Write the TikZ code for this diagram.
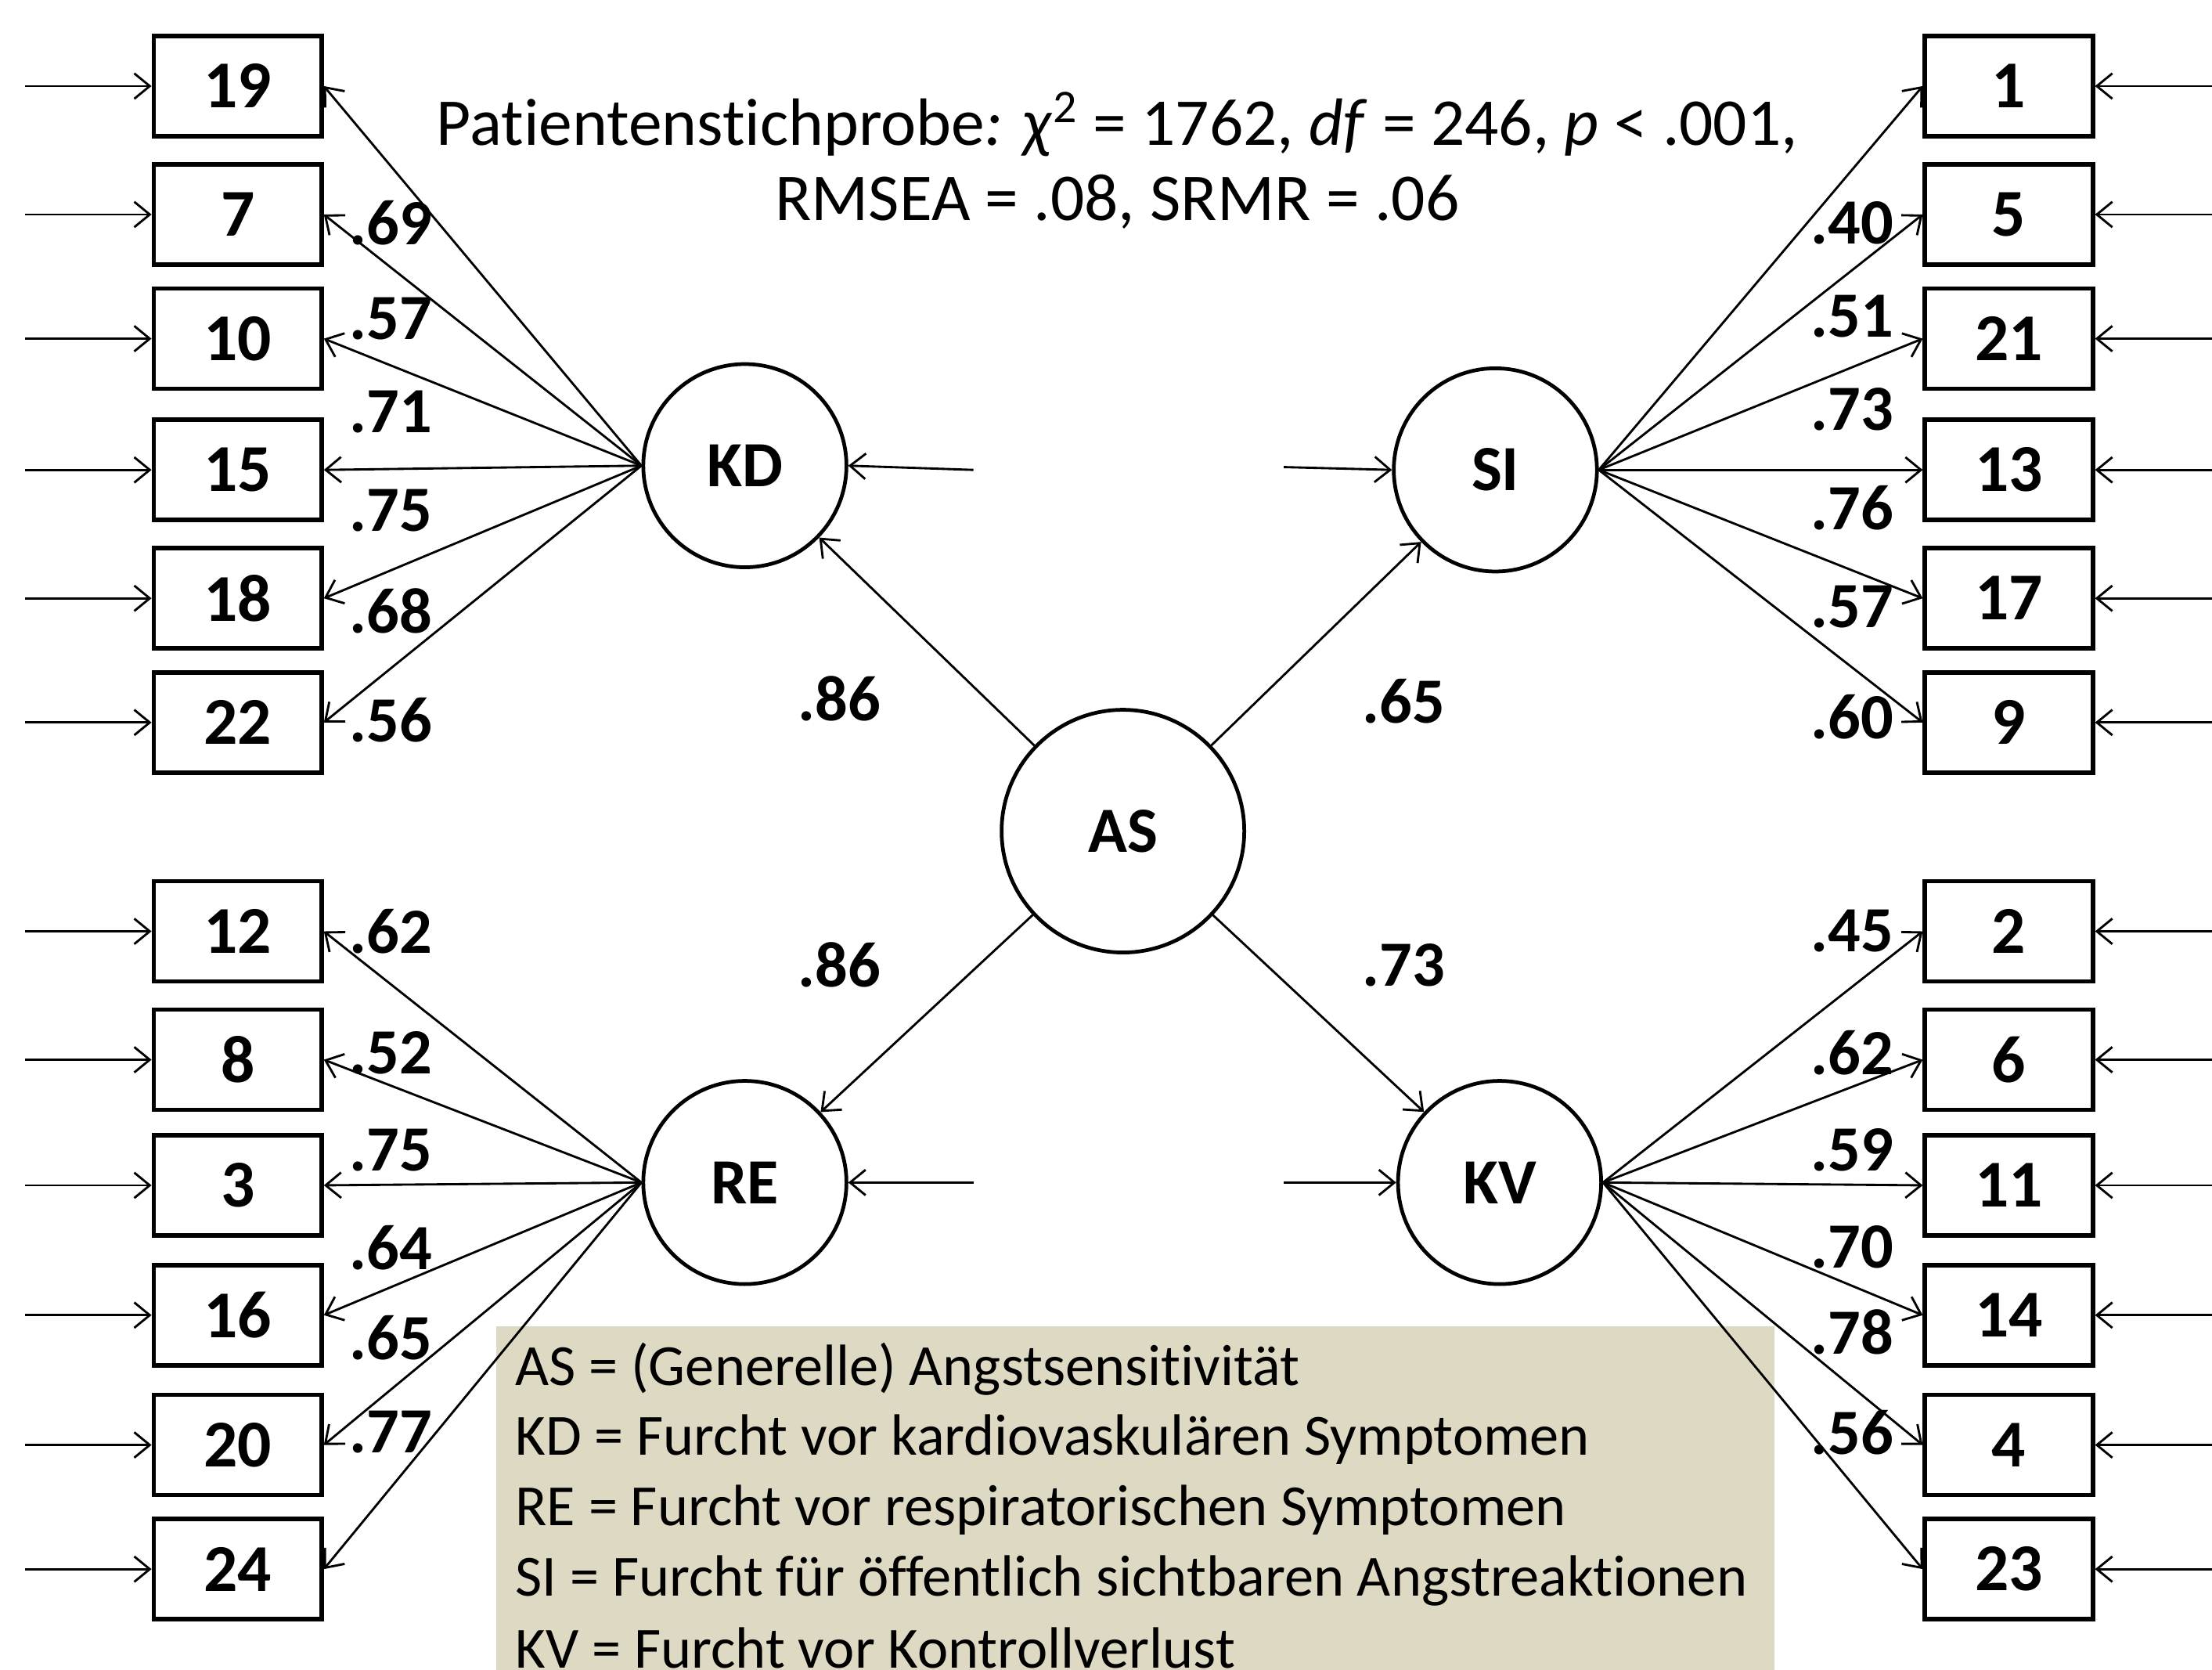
\documentclass[tikz,border=0pt]{standalone}
\usepackage{fontspec}
\setmainfont[Ligatures=NoCommon]{Carlito}
\usetikzlibrary{arrows.meta}
\definecolor{legendfill}{HTML}{DDD9C3}
\tikzset{
  item/.style={rectangle,draw,line width=1.8pt,minimum width=2.38cm,
    minimum height=1.42cm,inner sep=0pt,font=\fontsize{27}{30}\selectfont\bfseries},
  latent/.style={circle,draw,line width=1.5pt,minimum size=2.88cm,
    inner sep=0pt,font=\fontsize{26}{30}\selectfont\bfseries},
  fl/.style={-{Straight Barb[length=2.2mm,width=3.6mm]},line width=0.9pt},
  coef/.style={inner sep=0pt,font=\fontsize{26}{30}\selectfont\bfseries},
  note/.style={inner sep=0pt,font=\fontsize{23.5}{28}\selectfont},
  fit/.style={inner sep=0pt,font=\fontsize{27}{30}\selectfont},
}

\begin{document}
\begin{tikzpicture}[x=0.2mm,y=-0.2mm]
  \useasboundingbox (0,0) rectangle (1568,1183);
  % legend panel
  \fill[legendfill] (352,940) rectangle (1258,1190);
  \foreach \t/\y [count=\k] in {{AS = (Generelle) Angstsensitivität}/970,
      {KD = Furcht vor kardiovaskulären Symptomen}/1020,
      {RE = Furcht vor respiratorischen Symptomen}/1070,
      {SI = Furcht für öffentlich sichtbaren Angstreaktionen}/1120,
      {KV = Furcht vor Kontrollverlust}/1168}
    \node[note,anchor=west] (leg\k) at (365,\y) {\t};
  % fit line
  \node[fit] (fit1) at (792,88)
    {Patientenstichprobe\textit{: χ}\textsuperscript{2} = 1762, \textit{df} = 246, \textit{p} < .001,};
  \node[fit] (fit2) at (792,143) {RMSEA = .08, SRMR = .06};
  % latent factors
  \node[latent] (KD) at (528,330) {KD};
  \node[latent] (SI) at (1060,333) {SI};
  \node[latent,minimum size=3.44cm] (AS) at (796,589) {AS};
  \node[latent] (RE) at (528,838) {RE};
  \node[latent] (KV) at (1063,838) {KV};
  % items left
  \foreach \n/\y in {19/61,7/152,10/240,15/333,18/424,22/512,12/660,8/751,3/840,16/932,20/1024,24/1112}{
    \node[item] (i\n) at (168.5,\y) {\n};
    \coordinate (e\n) at (18,\y);
    \draw[fl] (e\n) -- (i\n);
  }
  % items right
  \foreach \n/\y in {1/61,5/152,21/240,13/333,17/424,9/512,2/660,6/751,11/840,14/932,4/1024,23/1112}{
    \node[item] (i\n) at (1424,\y) {\n};
    \coordinate (e\n) at (1575,\y);
    \draw[fl] (e\n) -- (i\n);
  }
  % loadings
  \foreach \n in {19,7,10,15,18,22} \draw[fl] (KD.west) -- (i\n.east);
  \foreach \n in {12,8,3,16,20,24} \draw[fl] (RE.west) -- (i\n.east);
  \foreach \n in {1,5,21,13,17,9} \draw[fl] (SI.east) -- (i\n.west);
  \foreach \n in {2,6,11,14,4,23} \draw[fl] (KV.east) -- (i\n.west);
  % second order paths and disturbances
  \foreach \f in {KD,SI,RE,KV} \draw[fl] (AS) -- (\f);
  \coordinate (dKD) at (690,333);
  \coordinate (dRE) at (690,838);
  \coordinate (dSI) at (910,331);
  \coordinate (dKV) at (910,838);
  \draw[fl] (dKD) -- (KD.east);
  \draw[fl] (dRE) -- (RE.east);
  \draw[fl] (dSI) -- (SI.west);
  \draw[fl] (dKV) -- (KV.west);
  % coefficients
  \foreach \v/\y [count=\k] in {.69/158,.57/226,.71/292,.75/362,.68/433,.56/510,.62/660,.52/746,.75/815,.64/884,.65/948,.77/1015}
    \node[coef] (cl\k) at (277,\y) {\v};
  \foreach \v/\y [count=\k] in {.40/158,.51/224,.73/290,.76/360,.57/430,.60/508,.45/660,.62/746,.59/815,.70/884,.78/944,.56/1015}
    \node[coef] (cr\k) at (1313,\y) {\v};
  \node[coef] (cKD) at (595,495) {.86};
  \node[coef] (cSI) at (995,497) {.65};
  \node[coef] (cRE) at (595,684) {.86};
  \node[coef] (cKV) at (995,684) {.73};
\end{tikzpicture}
\end{document}
